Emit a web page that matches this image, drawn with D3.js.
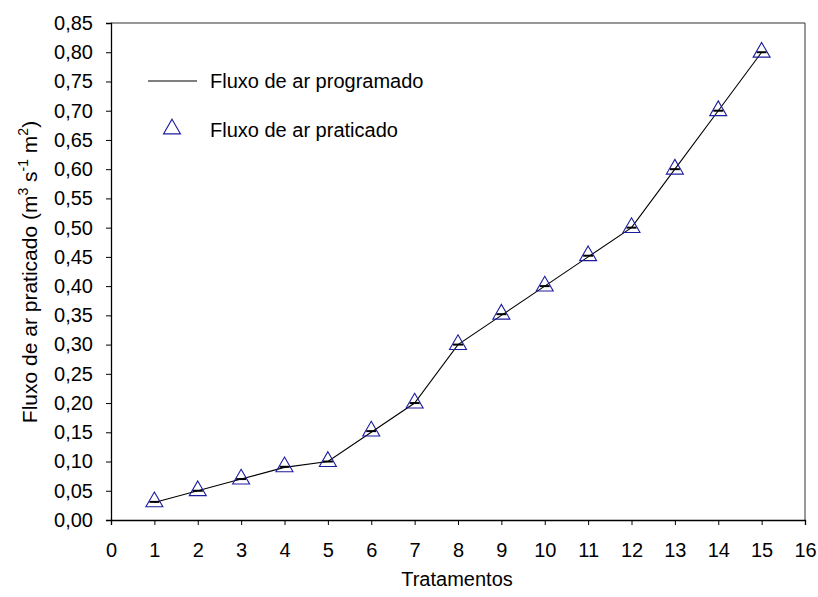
<!DOCTYPE html>
<html>
<head>
<meta charset="utf-8">
<script src="https://cdn.jsdelivr.net/npm/d3@7"></script>
<style>
  body { margin: 0; background: #fff; }
  svg { display: block; font-family: "Liberation Sans", Arial, sans-serif; }
</style>
</head>
<body>
<svg id="chart" width="818" height="597"></svg>
<script>
// Treatments and airflow values (m3 s-1 m-2)
const tratamentos = [1, 2, 3, 4, 5, 6, 7, 8, 9, 10, 11, 12, 13, 14, 15];
const fluxoProgramado = [0.03, 0.05, 0.07, 0.09, 0.10, 0.15, 0.20, 0.30, 0.35, 0.40, 0.45, 0.50, 0.60, 0.70, 0.80];
const fluxoPraticado  = [0.031, 0.05, 0.07, 0.091, 0.10, 0.152, 0.20, 0.30, 0.352, 0.40, 0.452, 0.50, 0.60, 0.70, 0.80];
const xTicks = d3.range(0, 17, 1);
const yTicks = d3.range(0, 0.851, 0.05);

const svg = d3.select("#chart");
const mLeft = 111, mRight = 805, mTop = 23, mBottom = 520;
const fs = 20;

const x = d3.scaleLinear().domain([0, 16]).range([mLeft, mRight]);
const y = d3.scaleLinear().domain([0, 0.85]).range([mBottom, mTop]);
const fmt = v => d3.format(".2f")(v).replace(".", ",");

// Frame (top and right edges)
svg.append("path")
  .attr("d", `M${mLeft},${mTop}H${mRight}V${mBottom}`)
  .attr("fill", "none").attr("stroke", "#333").attr("stroke-width", 1);

// Axes
const xAxis = svg.append("g").attr("transform", `translate(0,${mBottom})`)
  .call(d3.axisBottom(x).tickValues(xTicks).tickSize(5).tickPadding(18).tickFormat(d3.format("d")));
const yAxis = svg.append("g").attr("transform", `translate(${mLeft},0)`)
  .call(d3.axisLeft(y).tickValues(yTicks).tickSize(5).tickPadding(13).tickFormat(fmt));
[xAxis, yAxis].forEach(g => {
  g.select(".domain").attr("stroke", "#000").attr("stroke-width", 1.3);
  g.selectAll(".tick line").attr("stroke", "#000");
  g.selectAll(".tick text").attr("font-size", fs).attr("fill", "#000")
    .attr("font-family", "'Liberation Sans', Arial, sans-serif");
});

// Programmed airflow line
svg.append("path")
  .datum(tratamentos.map((t, i) => [t, fluxoProgramado[i]]))
  .attr("fill", "none").attr("stroke", "#000").attr("stroke-width", 1.1)
  .attr("d", d3.line().x(d => x(d[0])).y(d => y(d[1])));

// Measured airflow: short mean marks plus triangles
const pts = tratamentos.map((t, i) => ({ t, v: fluxoPraticado[i] }));
svg.append("g").selectAll("line").data(pts).join("line")
  .attr("x1", d => x(d.t) - 5).attr("x2", d => x(d.t) + 5)
  .attr("y1", d => y(d.v)).attr("y2", d => y(d.v))
  .attr("stroke", "#000").attr("stroke-width", 2);
const tri = d3.symbol().type(d3.symbolTriangle).size(125);
svg.append("g").selectAll("path").data(pts).join("path")
  .attr("transform", d => `translate(${x(d.t)},${y(d.v)})`)
  .attr("d", tri).attr("fill", "none").attr("stroke", "#1c1ca0").attr("stroke-width", 1.1);

// Legend
svg.append("line").attr("x1", 148).attr("x2", 197).attr("y1", 81).attr("y2", 81)
  .attr("stroke", "#000").attr("stroke-width", 1.1);
svg.append("text").attr("x", 210).attr("y", 88).attr("font-size", fs).text("Fluxo de ar programado");
svg.append("path").attr("transform", "translate(172,129)").attr("d", tri)
  .attr("fill", "none").attr("stroke", "#1c1ca0").attr("stroke-width", 1.1);
svg.append("text").attr("x", 210).attr("y", 137).attr("font-size", fs).text("Fluxo de ar praticado");

// Axis titles
svg.append("text").attr("x", 457).attr("y", 586).attr("text-anchor", "middle")
  .attr("font-size", fs).text("Tratamentos");
const yt = svg.append("text").attr("transform", `translate(37,${272}) rotate(-90)`)
  .attr("text-anchor", "middle").attr("font-size", 21);
yt.append("tspan").text("Fluxo de ar praticado (m");
yt.append("tspan").attr("dy", -9).attr("font-size", 14).text("3");
yt.append("tspan").attr("dy", 9).text(" s");
yt.append("tspan").attr("dy", -9).attr("font-size", 14).text("-1");
yt.append("tspan").attr("dy", 9).text(" m");
yt.append("tspan").attr("dy", -9).attr("font-size", 14).text("2");
yt.append("tspan").attr("dy", 9).text(")");
</script>
</body>
</html>
